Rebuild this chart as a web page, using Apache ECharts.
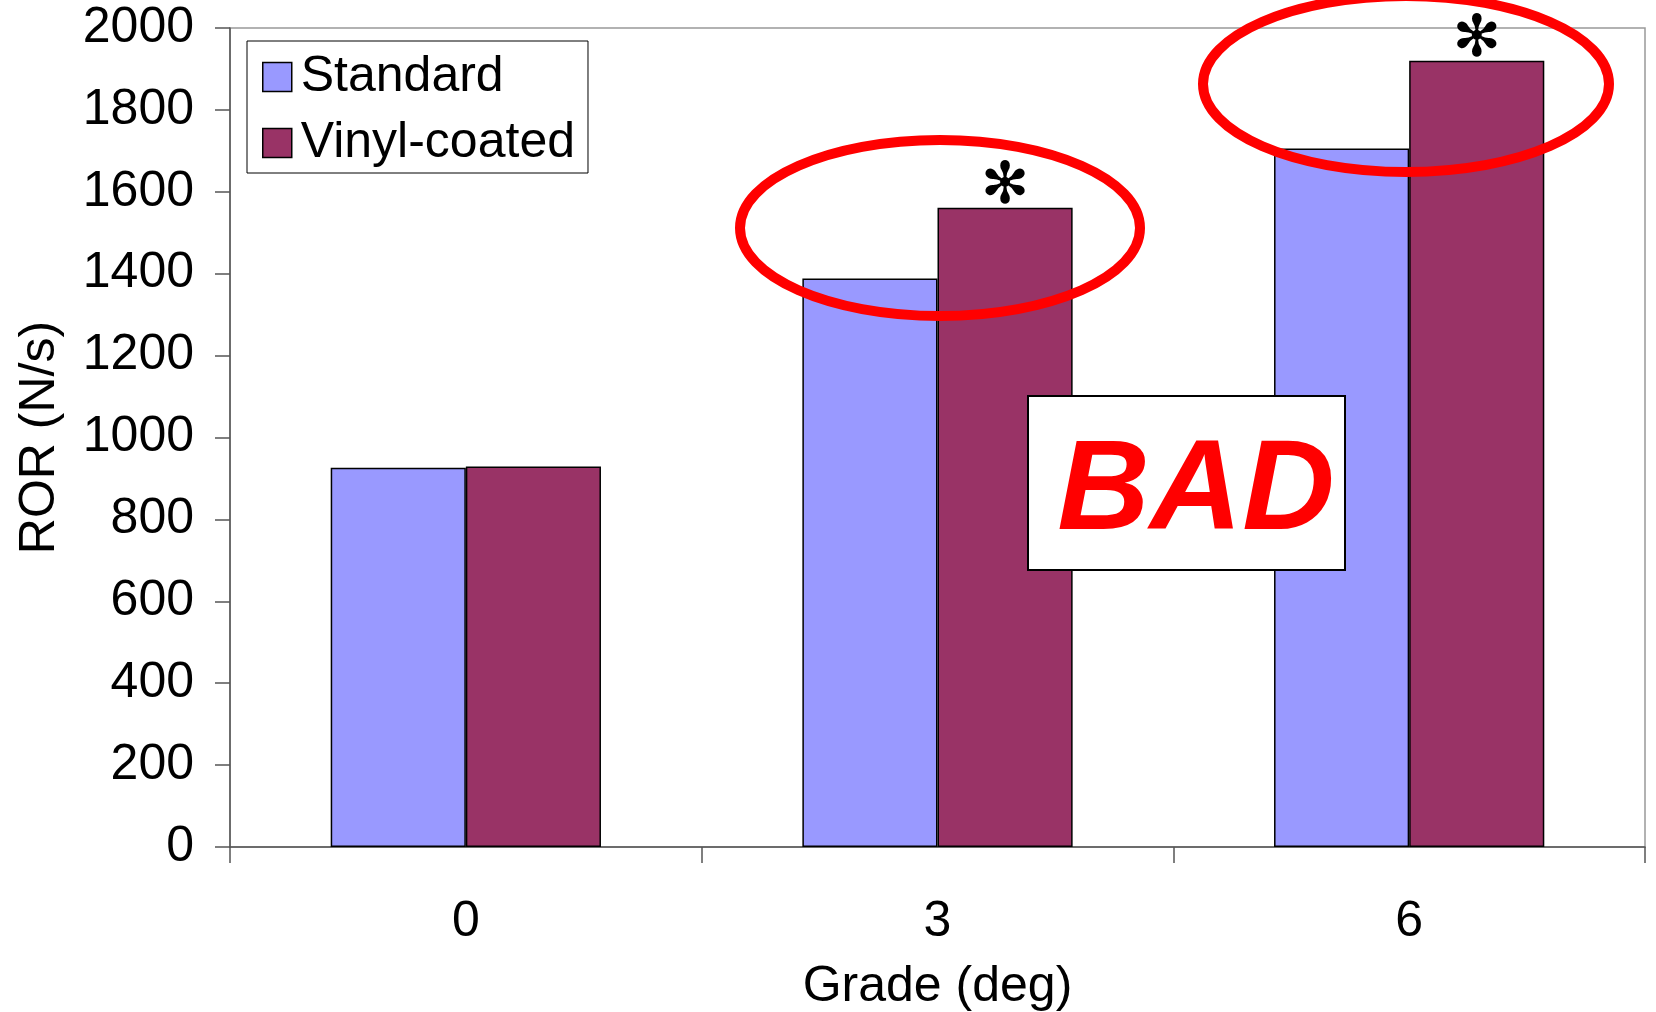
<!DOCTYPE html>
<html>
<head>
<meta charset="utf-8">
<script src="https://cdn.jsdelivr.net/npm/echarts@6/dist/echarts.min.js"></script>
<style>
html,body{margin:0;padding:0;background:#fff;}
#chart{width:1656px;height:1012px;}
</style>
</head>
<body>
<div id="chart"></div>
<script>
var grades = ['0', '3', '6'];
var standardValues = [926, 1388, 1706];
var vinylValues = [929, 1561, 1920];
var significant = [false, true, true];
var yTicks = {min: 0, max: 2000, interval: 200};
var seriesNames = ['Standard', 'Vinyl-coated'];
var sigMark = '\u273B';

var FONT = '"Liberation Sans", Arial, sans-serif';
var chart = echarts.init(document.getElementById('chart'), null, {renderer: 'canvas'});

var option = {
  backgroundColor: '#ffffff',
  animation: false,
  grid: {
    left: 230, right: 11, top: 28, bottom: 165,
    outerBoundsMode: 'none',
    show: true, borderColor: '#999999', borderWidth: 1.5, backgroundColor: 'transparent'
  },
  legend: {
    orient: 'vertical',
    left: 247, top: 41,
    padding: [6, 13, 0, 15],
    borderColor: '#000000', borderWidth: 1,
    backgroundColor: '#ffffff',
    itemWidth: 29, itemHeight: 29, itemGap: 6,
    icon: 'rect',
    textStyle: {fontFamily: FONT, fontSize: 50, color: '#000', lineHeight: 50, padding: [10, 0, 0, 4]},
    data: [
      {name: seriesNames[0], itemStyle: {borderColor: '#000', borderWidth: 1.5}},
      {name: seriesNames[1], itemStyle: {borderColor: '#000', borderWidth: 1.5}}
    ]
  },
  xAxis: {
    type: 'category',
    data: grades,
    name: 'Grade (deg)',
    nameLocation: 'middle',
    nameGap: 115,
    nameTextStyle: {fontFamily: FONT, fontSize: 50, color: '#000'},
    axisLine: {lineStyle: {color: '#555555', width: 1.5}},
    axisTick: {show: true, length: 16, lineStyle: {color: '#555555', width: 1.5}},
    axisLabel: {fontFamily: FONT, fontSize: 50, color: '#000', margin: 50}
  },
  yAxis: {
    type: 'value',
    min: yTicks.min, max: yTicks.max, interval: yTicks.interval,
    name: 'ROR (N/s)',
    nameLocation: 'middle',
    nameGap: 165,
    nameTextStyle: {fontFamily: FONT, fontSize: 50, color: '#000'},
    axisLine: {show: true, lineStyle: {color: '#555555', width: 1.5}},
    axisTick: {show: true, length: 15, lineStyle: {color: '#555555', width: 1.5}},
    axisLabel: {fontFamily: FONT, fontSize: 50, color: '#000', margin: 36,
                formatter: function (v) { return String(v); }},
    splitLine: {show: false}
  },
  series: [
    {
      name: seriesNames[0], type: 'bar', data: standardValues,
      barGap: '0%', barCategoryGap: '42.7%',
      itemStyle: {color: '#9999FF', borderColor: '#000', borderWidth: 1.5}
    },
    {
      name: seriesNames[1], type: 'bar', data: vinylValues,
      itemStyle: {color: '#993366', borderColor: '#000', borderWidth: 1.5},
      label: {
        show: true, position: 'top', distance: -9,
        formatter: function (p) { return significant[p.dataIndex] ? sigMark : ''; },
        fontFamily: '"DejaVu Sans", sans-serif',
        fontSize: 58, lineHeight: 58, color: '#000'
      }
    }
  ],
  graphic: [
    {type: 'ellipse', z: 100, shape: {cx: 940, cy: 228, rx: 200, ry: 88},
     style: {fill: 'none', stroke: '#FF0000', lineWidth: 10}},
    {type: 'ellipse', z: 100, shape: {cx: 1406, cy: 84, rx: 203, ry: 88},
     style: {fill: 'none', stroke: '#FF0000', lineWidth: 10}},
    {type: 'rect', z: 100, shape: {x: 1028, y: 396, width: 317, height: 174},
     style: {fill: '#ffffff', stroke: '#000000', lineWidth: 2}},
    {type: 'text', z: 101, x: 1196, y: 494,
     style: {text: 'BAD', fill: '#FF0000', font: 'italic bold 128px "Liberation Sans", Arial, sans-serif',
             textAlign: 'center', textVerticalAlign: 'middle'}}
  ]
};
chart.setOption(option);
</script>
</body>
</html>
